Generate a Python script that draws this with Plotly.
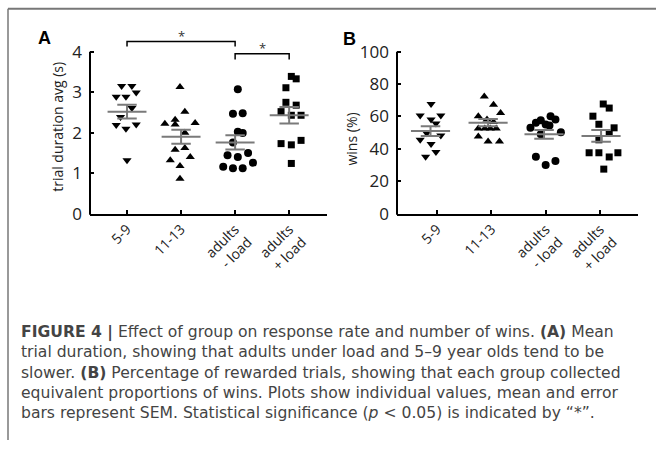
import plotly.graph_objects as go

# ---------------- data ----------------
categories = ["5-9", "11-13", "adults<br>- load", "adults<br>+ load"]
symbols = ["triangle-down", "triangle-up", "circle", "square"]

# Panel A: trial duration avg (s)
dur_5_9 = [3.15, 3.15, 2.89, 2.89, 2.99, 2.61, 2.39, 2.19, 2.10, 2.20, 1.32]
dur_5_9_jit = [-0.10, 0.09, -0.20, -0.02, 0.17, 0.09, -0.12, -0.20, -0.02, 0.17, 0.0]
dur_11_13 = [3.13, 2.52, 2.22, 2.32, 2.20, 2.24, 2.00, 1.58, 1.62, 1.32, 1.40, 1.18, 0.86]
dur_11_13_jit = [-0.02, 0.07, -0.30, -0.11, -0.11, 0.26, 0.07, -0.11, 0.07, -0.20, 0.17, -0.02, -0.02]
dur_adm = [3.07, 2.47, 2.48, 2.02, 1.99, 1.76, 1.44, 1.40, 1.50, 1.16, 1.12, 1.12, 1.26]
dur_adm_jit = [0.05, -0.04, 0.14, 0.05, 0.14, -0.04, -0.14, 0.05, 0.24, -0.22, -0.04, 0.14, 0.33]
dur_adp = [3.39, 3.33, 3.11, 2.75, 2.68, 2.52, 2.43, 2.43, 1.73, 1.70, 1.81, 1.24]
dur_adp_jit = [0.04, 0.13, -0.06, -0.06, 0.13, -0.15, 0.04, 0.22, -0.15, 0.04, 0.22, 0.04]
dur_mean = [2.52, 1.90, 1.76, 2.43]
dur_sem = [0.17, 0.175, 0.175, 0.205]

# Panel B: wins (%)
win_5_9 = [67.7, 60.6, 60.6, 58.2, 55.6, 49.6, 45.6, 43.0, 48.2, 38.1, 35.1]
win_5_9_jit = [-0.11, -0.31, 0.07, -0.11, -0.02, -0.19, -0.31, -0.11, 0.07, -0.02, -0.21]
win_11_13 = [72.3, 67.3, 62.2, 60.2, 58.2, 56.6, 52.6, 52.6, 52.6, 52.6, 47.6, 44.6, 44.6]
win_11_13_jit = [-0.13, 0.04, 0.17, -0.24, -0.08, 0.04, -0.24, -0.12, -0.02, 0.09, -0.24, -0.06, 0.15]
win_adm = [53.0, 56.2, 57.6, 55.0, 60.2, 58.2, 54.5, 50.2, 35.1, 30.1, 32.5, 49.0]
win_adm_jit = [-0.28, -0.18, -0.09, 0.0, 0.09, 0.18, 0.07, 0.28, -0.18, 0.0, 0.18, -0.09]
win_adp = [67.7, 65.2, 60.2, 55.2, 53.0, 49.6, 45.6, 37.6, 37.6, 37.6, 35.0, 27.5]
win_adp_jit = [0.06, 0.17, -0.13, -0.02, 0.26, 0.17, -0.02, -0.20, -0.02, 0.33, 0.17, 0.07]
win_mean = [51.0, 56.2, 49.0, 48.0]
win_sem = [3.0, 2.2, 2.7, 3.6]
win_mean_shift = [-0.12, -0.06, -0.03, 0.02]

# significance brackets for panel A (group index pairs, height)
sig_pairs = [(1, 3), (3, 4)]
sig_heights = [4.25, 3.95]
sig_drop = [0.12, 0.14]

caption_lines = [
    "<b>FIGURE 4 |</b> Effect of group on response rate and number of wins. <b>(A)</b> Mean",
    "trial duration, showing that adults under load and 5\u20139 year olds tend to be",
    "slower. <b>(B)</b> Percentage of rewarded trials, showing that each group collected",
    "equivalent proportions of wins. Plots show individual values, mean and error",
    "bars represent SEM. Statistical significance (<i>p</i> &lt; 0.05) is indicated by \u201c*\u201d.",
]

# ---------------- layout constants ----------------
W, H = 656, 451
FONT = "Open Sans, DejaVu Sans, sans-serif"
CAP_FONT = "DejaVu Sans, Open Sans, sans-serif"
GREY = "#7a7a7a"

xdomA = [90 / W, 327 / W]
xdomB = [397 / W, 638 / W]
ydom = [1 - 219 / H, 1 - 32.25 / H]
xrangeA = [0.315, 4.70]
xrangeB = [0.263, 4.70]
yrangeA = [0, 4.5]
yrangeB = [0, 112.5]


def paper_y(v, rng):
    return ydom[0] + (v - rng[0]) / (rng[1] - rng[0]) * (ydom[1] - ydom[0])


fig = go.Figure()

groupsA = [(dur_5_9, dur_5_9_jit), (dur_11_13, dur_11_13_jit), (dur_adm, dur_adm_jit), (dur_adp, dur_adp_jit)]
groupsB = [(win_5_9, win_5_9_jit), (win_11_13, win_11_13_jit), (win_adm, win_adm_jit), (win_adp, win_adp_jit)]


def add_panel(groups, means, sems, shifts, xa, ya):
    for i, (vals, jit) in enumerate(groups):
        sym = symbols[i]
        size = 8 if sym != "square" else 7
        fig.add_trace(go.Scatter(
            x=[i + 1 + j for j in jit], y=vals, mode="markers",
            marker=dict(symbol=sym, size=size, color="black", line=dict(width=0)),
            xaxis=xa, yaxis=ya, showlegend=False, cliponaxis=False))
    for i, (m, s) in enumerate(zip(means, sems)):
        c = i + 1 + shifts[i]
        xs = [c - 0.36, c + 0.36, None, c, c, None, c - 0.18, c + 0.18, None, c - 0.18, c + 0.18]
        ys = [m, m, None, m - s, m + s, None, m + s, m + s, None, m - s, m - s]
        fig.add_trace(go.Scatter(x=xs, y=ys, mode="lines", line=dict(color=GREY, width=2),
                                 xaxis=xa, yaxis=ya, showlegend=False))


add_panel(groupsA, dur_mean, dur_sem, [0, 0, 0, 0], "x", "y")
add_panel(groupsB, win_mean, win_sem, win_mean_shift, "x2", "y2")

# significance brackets
for (a, b), h, d in zip(sig_pairs, sig_heights, sig_drop):
    fig.add_trace(go.Scatter(x=[a, a, b, b], y=[h - d, h, h, h - d], mode="lines",
                             line=dict(color="black", width=1.5), xaxis="x", yaxis="y",
                             showlegend=False))
    fig.add_annotation(x=(a + b) / 2, y=h + 0.13, xref="x", yref="y", text="*", showarrow=False,
                       font=dict(family=FONT, size=13, color="#333"),
                       xanchor="center", yanchor="middle")

axis_common = dict(showgrid=False, zeroline=False, ticks="inside", ticklen=4, tickwidth=1.5,
                   tickcolor="black")
ytickfont = dict(family=FONT, size=17, color="#222")
xtickfont = dict(family=FONT, size=14, color="#222")

fig.update_layout(
    width=W, height=H, margin=dict(l=0, r=0, t=0, b=0),
    paper_bgcolor="white", plot_bgcolor="white", showlegend=False,
    xaxis=dict(domain=xdomA, range=xrangeA, anchor="y", tickmode="array", tickvals=[1, 2, 3, 4],
               ticktext=categories, tickangle=-45, showline=True, linecolor="black", linewidth=2,
               tickfont=xtickfont, **axis_common),
    yaxis=dict(domain=ydom, range=yrangeA, anchor="x", tickmode="array", tickvals=[0, 1, 2, 3, 4],
               showline=False, tickfont=ytickfont, ticklabelstandoff=7, **axis_common),
    xaxis2=dict(domain=xdomB, range=xrangeB, anchor="y2", tickmode="array", tickvals=[1, 2, 3, 4],
                ticktext=categories, tickangle=-45, showline=True, linecolor="black", linewidth=2,
                tickfont=xtickfont, **axis_common),
    yaxis2=dict(domain=ydom, range=yrangeB, anchor="x2", tickmode="array",
                tickvals=[0, 20, 40, 60, 80, 100], showline=False, tickfont=ytickfont,
                ticklabelstandoff=7, **axis_common),
)

# y-axis lines (stop at top tick)
for dom, rng, top in [(xdomA, yrangeA, 4), (xdomB, yrangeB, 100)]:
    fig.add_shape(type="line", xref="paper", yref="paper", x0=dom[0], x1=dom[0],
                  y0=paper_y(rng[0], rng) - 1 / H, y1=paper_y(top, rng),
                  line=dict(color="black", width=2))

# y titles
fig.add_annotation(x=58 / W, y=1 - 130 / H, xref="paper", yref="paper", text="trial duration avg (s)",
                   textangle=-90, showarrow=False, xanchor="center", yanchor="middle",
                   font=dict(family=FONT, size=14, color="#222"))
fig.add_annotation(x=352 / W, y=1 - 143 / H, xref="paper", yref="paper", text="wins (%)",
                   textangle=-90, showarrow=False, xanchor="center", yanchor="middle",
                   font=dict(family=FONT, size=14, color="#222"))

# panel letters
fig.add_annotation(x=44 / W, y=1 - 39 / H, xref="paper", yref="paper", text="<b>A</b>",
                   showarrow=False, xanchor="center", yanchor="middle",
                   font=dict(family="Liberation Sans, Arial, sans-serif", size=18, color="black"))
fig.add_annotation(x=349 / W, y=1 - 40 / H, xref="paper", yref="paper", text="<b>B</b>",
                   showarrow=False, xanchor="center", yanchor="middle",
                   font=dict(family="Liberation Sans, Arial, sans-serif", size=18, color="black"))

# frame
fig.add_shape(type="line", xref="paper", yref="paper", x0=8 / W, x1=1, y0=1 - 9 / H, y1=1 - 9 / H,
              line=dict(color="#777", width=2))
fig.add_shape(type="line", xref="paper", yref="paper", x0=8 / W, x1=8 / W, y0=0, y1=1 - 9 / H,
              line=dict(color="#777", width=1.5))

# caption (one block, line spacing from the font size)
fig.add_annotation(x=19 / W, y=1 - 382 / H, xref="paper", yref="paper",
                   text="<br>".join(caption_lines),
                   xanchor="left", yanchor="middle", showarrow=False, align="left",
                   font=dict(family=CAP_FONT, size=15.6, color="#444444"))

fig.write_html("out.html", config={"displayModeBar": False},
               post_script="document.body.style.margin='0';document.body.style.overflow='hidden';")
